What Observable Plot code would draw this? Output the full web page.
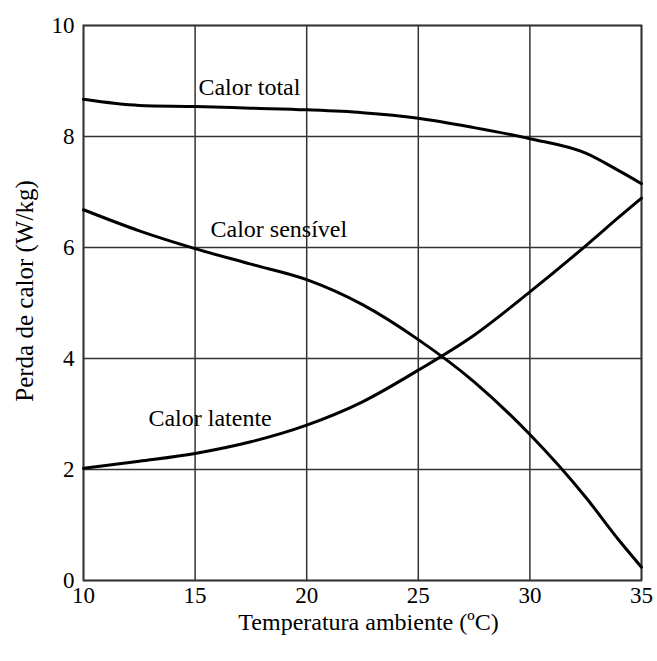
<!DOCTYPE html>
<html><head><meta charset="utf-8">
<script src="https://cdn.jsdelivr.net/npm/d3@7"></script>
<script src="https://cdn.jsdelivr.net/npm/@observablehq/plot@0.6"></script>
<style>
body{margin:0;background:#fff}
svg{display:block}
#chart svg, #chart svg text { font-family: "Liberation Serif", Tinos, "Times New Roman", "DejaVu Serif", "Noto Serif", serif !important; }
</style>
</head><body><div id="chart"></div>
<script>
const temps    = [10, 12.5, 15, 17.5, 20, 22.5, 25, 27.5, 30, 32.5, 34, 35];
const total    = [8.67, 8.56, 8.54, 8.51, 8.48, 8.43, 8.33, 8.16, 7.96, 7.70, 7.38, 7.15];
const sensivel = [6.68, 6.30, 5.98, 5.70, 5.42, 4.97, 4.34, 3.58, 2.63, 1.50, 0.72, 0.24];
const latente  = [2.02, 2.15, 2.29, 2.50, 2.80, 3.22, 3.79, 4.42, 5.20, 6.03, 6.55, 6.89];
const xTicks = [10, 15, 20, 25, 30, 35];
const yTicks = [0, 2, 4, 6, 8, 10];
const labelNames = ["Calor total", "Calor sensível", "Calor latente"];
const labelX = [15.15, 15.69, 12.91];
const labelY = [8.88, 6.32, 2.92];
const xTitle = "Temperatura ambiente (ºC)";
const yTitle = "Perda de calor (W/kg)";

const series = [total, sensivel, latente];
const rows = series.flatMap((vals, s) => temps.map((t, i) => ({t, v: vals[i], s})));
const labels = labelNames.map((name, i) => ({name, x: labelX[i], y: labelY[i]}));
const serif = '"Liberation Serif", Tinos, "Times New Roman", "DejaVu Serif", serif';

const plot = Plot.plot({
  width: 657, height: 661,
  marginLeft: 83, marginRight: 16, marginTop: 25, marginBottom: 81,
  style: {fontFamily: serif, fontSize: "23px", background: "#fff", color: "#000"},
  x: {domain: [10, 35]},
  y: {domain: [0, 10]},
  marks: [
    Plot.gridX(xTicks, {stroke: "#333", strokeOpacity: 1, strokeWidth: 1.5}),
    Plot.gridY(yTicks, {stroke: "#333", strokeOpacity: 1, strokeWidth: 1.5}),
    Plot.frame({stroke: "#333", strokeWidth: 1.8}),
    Plot.axisX(xTicks, {tickSize: 0, tickPadding: 6, label: null, fontSize: 23, fontFamily: serif, tickFormat: d => String(d)}),
    Plot.axisY(yTicks, {tickSize: 0, tickPadding: 9, label: null, fontSize: 23, fontFamily: serif, tickFormat: d => String(d)}),
    Plot.line(rows, {x: "t", y: "v", z: "s", stroke: "#000", strokeWidth: 3, curve: "monotone-x"}),
    Plot.text(labels, {x: "x", y: "y", text: "name", textAnchor: "start", fontSize: 24, fontFamily: serif, fill: "#000"}),
    Plot.text([xTitle], {frameAnchor: "bottom", textAnchor: "middle", lineAnchor: "middle", dy: 42, dx: 6, fontSize: 24, fontFamily: serif, fill: "#000"}),
    Plot.text([yTitle], {frameAnchor: "left", textAnchor: "middle", lineAnchor: "middle", rotate: -90, dx: -59, dy: -12, fontSize: 25, fontFamily: serif, fill: "#000"})
  ]
});
document.getElementById("chart").appendChild(plot);
</script>
</body></html>
